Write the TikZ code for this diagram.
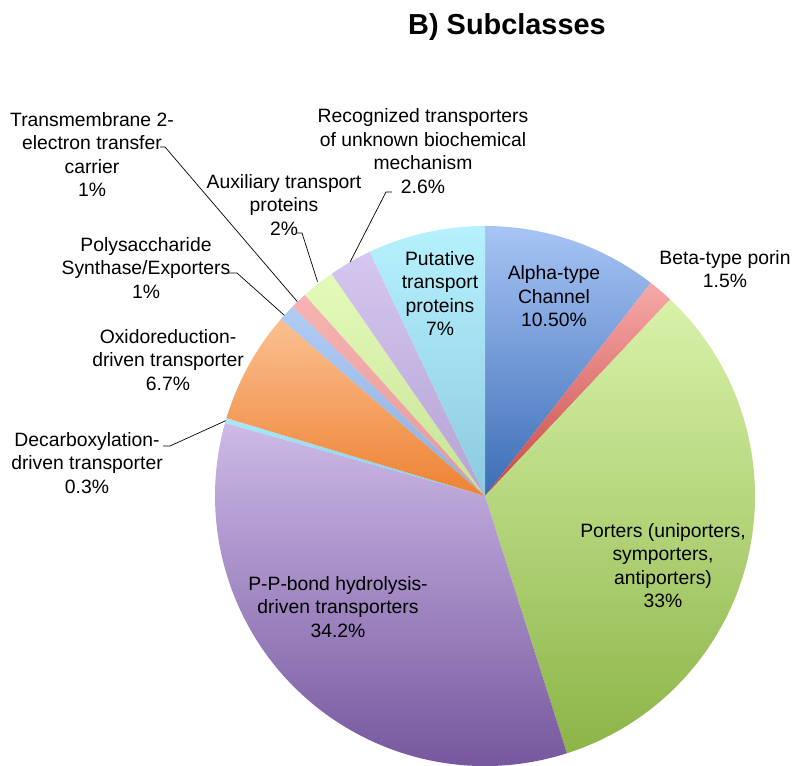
\documentclass[tikz,border=0pt]{standalone}
\usepackage{fontspec}
\setmainfont{Liberation Sans}
\definecolor{alphaTop}{HTML}{A7C4F5}
\definecolor{alphaBot}{HTML}{3C6DB6}
\definecolor{betaTop}{HTML}{F6A9A9}
\definecolor{betaBot}{HTML}{C84843}
\definecolor{portTop}{HTML}{D8F2A9}
\definecolor{portBot}{HTML}{8CB447}
\definecolor{ppTop}{HTML}{CDBAE7}
\definecolor{ppBot}{HTML}{6E4E97}
\definecolor{decTop}{HTML}{AAE8F9}
\definecolor{decBot}{HTML}{7FCDE8}
\definecolor{oxTop}{HTML}{FBC091}
\definecolor{oxBot}{HTML}{EE8233}
\definecolor{polyTop}{HTML}{B0CCF4}
\definecolor{polyBot}{HTML}{8FAFE0}
\definecolor{transTop}{HTML}{F7B3B3}
\definecolor{transBot}{HTML}{E39898}
\definecolor{auxTop}{HTML}{E5FABA}
\definecolor{auxBot}{HTML}{C6E295}
\definecolor{recogTop}{HTML}{D5C7EF}
\definecolor{recogBot}{HTML}{B4A2D4}
\definecolor{putTop}{HTML}{B6F1FD}
\definecolor{putBot}{HTML}{8BCAE0}
\begin{document}
\begin{tikzpicture}[x=1bp,y=1bp,
    slicelabel/.style={align=center,inner sep=0pt,font=\fontsize{19.4}{23.5}\selectfont},
    titletext/.style={inner sep=0pt,font=\fontsize{29}{34}\selectfont\bfseries},
    leader/.style={draw=black,line width=0.7bp}]
  \useasboundingbox (0,0) rectangle (795,766);
  \coordinate (pie) at (485,270);

  % Draw the slices of the pie chart (clockwise from the top)
  \shade[top color=alphaTop,bottom color=alphaBot] (pie) -- ++(90:270) arc (90:52.124:270) -- cycle;
  \shade[top color=betaTop,bottom color=betaBot] (pie) -- ++(52.124:270) arc (52.124:46.713:270) -- cycle;
  \shade[top color=portTop,bottom color=portBot] (pie) -- ++(46.713:270) arc (46.713:-72.325:270) -- cycle;
  \shade[top color=ppTop,bottom color=ppBot] (pie) -- ++(-72.325:270) arc (-72.325:-195.692:270) -- cycle;
  \shade[top color=decTop,bottom color=decBot] (pie) -- ++(-195.692:270) arc (-195.692:-196.774:270) -- cycle;
  \shade[top color=oxTop,bottom color=oxBot] (pie) -- ++(-196.774:270) arc (-196.774:-220.942:270) -- cycle;
  \shade[top color=polyTop,bottom color=polyBot] (pie) -- ++(-220.942:270) arc (-220.942:-224.549:270) -- cycle;
  \shade[top color=transTop,bottom color=transBot] (pie) -- ++(-224.549:270) arc (-224.549:-228.156:270) -- cycle;
  \shade[top color=auxTop,bottom color=auxBot] (pie) -- ++(-228.156:270) arc (-228.156:-235.370:270) -- cycle;
  \shade[top color=recogTop,bottom color=recogBot] (pie) -- ++(-235.370:270) arc (-235.370:-244.749:270) -- cycle;
  \shade[top color=putTop,bottom color=putBot] (pie) -- ++(-244.749:270) arc (-244.749:-270:270) -- cycle;

  % Title
  \node[titletext] (title) at (507,739) {B) Subclasses};

  % Labels inside the pie
  \node[slicelabel] (alpha) at (554,469.5) {Alpha-type\\Channel\\10.50\%};
  \node[slicelabel] (putative) at (440,472.5) {Putative\\transport\\proteins\\7\%};
  \node[slicelabel] (porters) at (663,200.5) {Porters (uniporters,\\symporters,\\antiporters)\\33\%};
  \node[slicelabel] (ppbond) at (338,159) {P-P-bond hydrolysis-\\driven transporters\\34.2\%};

  % Labels outside the pie
  \node[slicelabel] (beta) at (725,497) {Beta-type porin\\1.5\%};
  \node[slicelabel] (recog) at (423,615) {Recognized transporters\\of unknown biochemical\\mechanism\\2.6\%};
  \node[slicelabel] (aux) at (284,561) {Auxiliary transport\\proteins\\2\%};
  \node[slicelabel] (transmem) at (92,611.5) {Transmembrane 2-\\electron transfer\\carrier\\1\%};
  \node[slicelabel] (poly) at (146,498) {Polysaccharide\\Synthase/Exporters\\1\%};
  \node[slicelabel] (oxido) at (168,406) {Oxidoreduction-\\driven transporter\\6.7\%};
  \node[slicelabel] (decarb) at (87,303) {Decarboxylation-\\driven transporter\\0.3\%};

  % Leader lines from the small labels to their slices
  \coordinate (recogEnd) at (392,574);
  \coordinate (recogSlice) at ([shift={(120:270)}]pie);
  \draw[leader] (recogEnd) -- ++(-6,0) -- (recogSlice);

  \coordinate (auxEnd) at (297,533);
  \coordinate (auxSlice) at ([shift={(128:272)}]pie);
  \draw[leader] (auxEnd) -- ++(5,0) -- (auxSlice);

  \coordinate (transmemEnd) at (160,619);
  \coordinate (transmemSlice) at ([shift={(134:270)}]pie);
  \draw[leader] (transmemEnd) -- ++(5,0) -- (transmemSlice);

  \coordinate (polyEnd) at (228,493);
  \coordinate (polySlice) at ([shift={(138:270)}]pie);
  \draw[leader] (polyEnd) -- ++(9,0) -- (polySlice);

  \coordinate (decarbEnd) at (163,320);
  \coordinate (decarbSlice) at ([shift={(163.8:270)}]pie);
  \draw[leader] (decarbEnd) -- ++(7,0) -- (decarbSlice);
\end{tikzpicture}
\end{document}
